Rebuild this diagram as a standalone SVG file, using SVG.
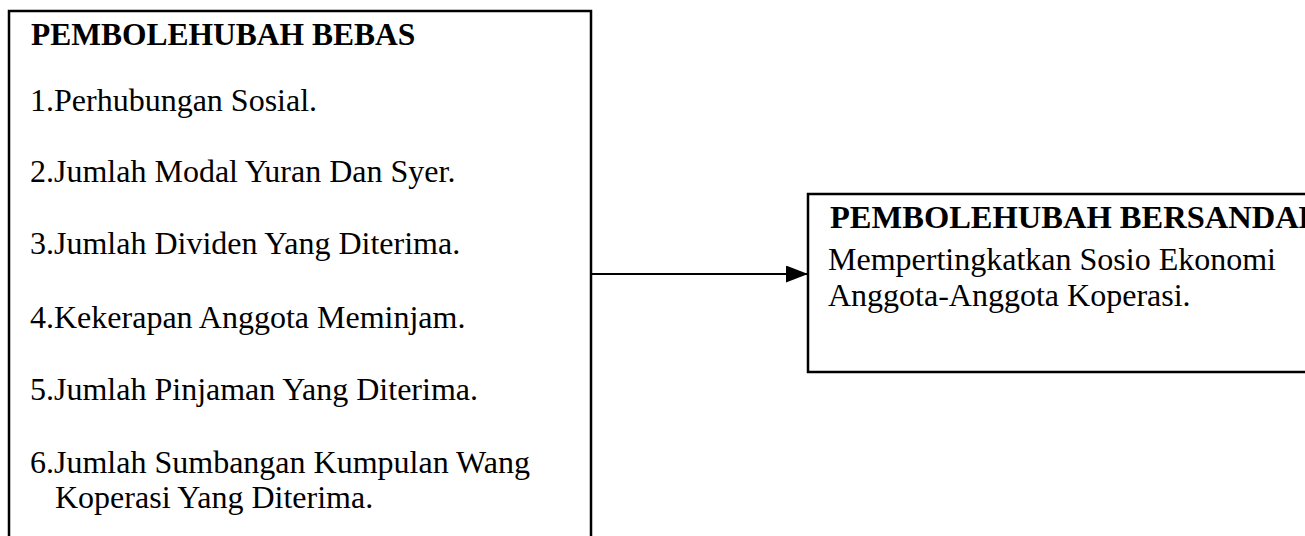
<svg xmlns="http://www.w3.org/2000/svg" width="1305" height="536" viewBox="0 0 1305 536">
<style>
.box{fill:#fff;stroke:#000;stroke-width:2.5}
.t{font-family:"Liberation Serif","Times New Roman",serif;font-size:32px;fill:#000}
.h{font-family:"Liberation Serif","Times New Roman",serif;font-size:31.5px;font-weight:bold;fill:#000}
.c{stroke:#000;stroke-width:2;fill:none}
</style>
<defs>
<marker id="ah" markerWidth="22" markerHeight="17" refX="22" refY="8.5" orient="auto" markerUnits="userSpaceOnUse">
<path d="M0,0 L22,8.5 L0,17 Z" fill="#000"/>
</marker>
</defs>
<rect width="1305" height="536" fill="#fff"/>
<g id="node-bebas">
<rect class="box" x="9" y="11" width="582" height="540"/>
<text class="h" x="31" y="45">PEMBOLEHUBAH BEBAS</text>
<text class="t" x="30" y="111">1.Perhubungan Sosial.</text>
<text class="t" x="30" y="182">2.Jumlah Modal Yuran Dan Syer.</text>
<text class="t" x="30" y="254">3.Jumlah Dividen Yang Diterima.</text>
<text class="t" x="30" y="328">4.Kekerapan Anggota Meminjam.</text>
<text class="t" x="30" y="400">5.Jumlah Pinjaman Yang Diterima.</text>
<text class="t" x="30" y="473">6.Jumlah Sumbangan Kumpulan Wang</text>
<text class="t" x="55" y="508">Koperasi Yang Diterima.</text>
</g>
<g id="node-bersandar">
<rect class="box" x="808" y="194" width="520" height="178"/>
<text class="h" x="830" y="228" style="font-size:32.5px">PEMBOLEHUBAH BERSANDAR</text>
<text class="t" x="828" y="270">Mempertingkatkan Sosio Ekonomi</text>
<text class="t" x="828" y="306">Anggota-Anggota Koperasi.</text>
</g>
<g id="connectors">
<line class="c" x1="592" y1="274" x2="808" y2="274" marker-end="url(#ah)"/>
</g>
</svg>
